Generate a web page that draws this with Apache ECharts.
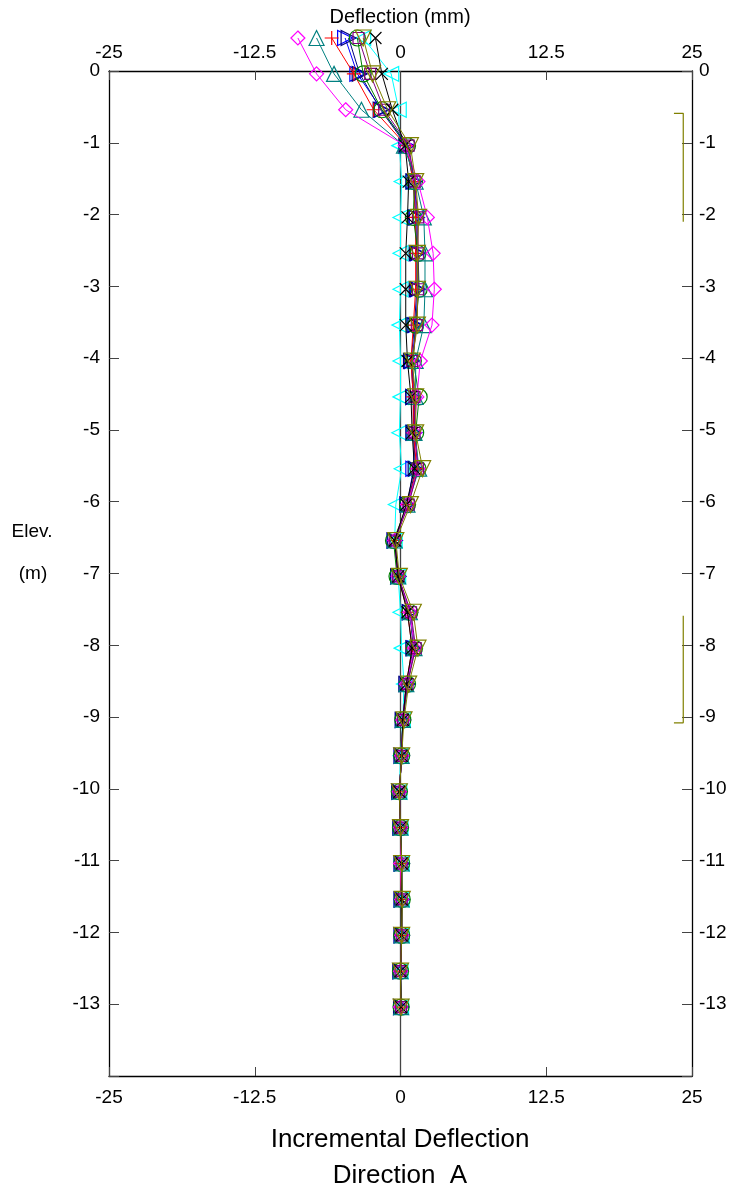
<!DOCTYPE html>
<html><head><meta charset="utf-8">
<script src="https://cdn.jsdelivr.net/npm/echarts@6/dist/echarts.min.js"></script>
<style>html,body{margin:0;padding:0;background:#fff}#c{width:736px;height:1196px}</style>
</head><body><div id="c"></div>
<script>
// Elevations of the readings (m)
const elevations = [0.46,-0.04,-0.54,-1.04,-1.54,-2.04,-2.54,-3.04,-3.54,-4.04,-4.54,-5.04,-5.54,-6.04,-6.54,-7.04,-7.54,-8.04,-8.54,-9.04,-9.54,-10.04,-10.54,-11.04,-11.54,-12.04,-12.54,-13.04];
const xTickValues = [-25,-12.5,0,12.5,25];
const yTickValues = [0,-1,-2,-3,-4,-5,-6,-7,-8,-9,-10,-11,-12,-13];

// Incremental deflection per reading set (mm)
const cyanSet    = [-3.2,-0.8,-0.15,-0.1,0.1,0.0,0.0,0.0,-0.1,0.0,0.0,-0.1,0.1,-0.4,-0.5,-0.2,0.0,0.1,0.3,0.2,0.0,-0.1,0.0,0.1,0.1,0.1,0.0,0.05];
const blueSet    = [-4.75,-3.7,-1.6,0.6,1.2,1.4,1.5,1.5,1.3,1.0,1.1,1.2,1.1,0.6,-0.5,-0.2,0.8,1.2,0.6,0.2,0.1,-0.1,0.0,0.1,0.1,0.1,0.0,0.05];
const navySet    = [-4.45,-3.5,-1.7,0.5,1.1,1.3,1.4,1.4,1.2,0.9,1.1,1.1,1.3,0.6,-0.5,-0.2,0.8,1.1,0.5,0.2,0.1,-0.1,0.0,0.1,0.1,0.1,0.0,0.05];
const redSet     = [-5.9,-4.0,-2.3,0.5,1.1,1.3,1.3,1.3,1.1,0.9,1.1,1.1,1.4,0.6,-0.5,-0.2,0.6,1.0,0.5,0.2,0.1,-0.1,0.0,0.0,0.1,0.1,0.0,0.05];
const greenSet   = [-3.7,-3.2,-1.6,0.6,1.2,1.1,1.5,1.6,1.3,1.1,1.6,1.3,1.5,0.6,-0.6,-0.3,0.8,1.2,0.6,0.2,0.1,-0.1,0.0,0.1,0.15,0.1,0.0,0.05];
const tealSet    = [-7.2,-5.7,-3.35,0.3,1.3,2.0,2.1,2.1,2.0,1.3,1.3,1.2,1.6,0.6,-0.5,-0.2,0.8,1.2,0.5,0.2,0.1,-0.1,0.0,0.1,0.1,0.1,0.0,0.05];
const magentaSet = [-8.8,-7.2,-4.7,0.4,1.5,2.3,2.8,2.9,2.7,1.7,1.4,1.2,1.5,0.6,-0.5,-0.2,0.8,1.2,0.5,0.2,0.1,-0.1,0.0,0.0,0.1,0.1,0.0,0.0];
const purpleSet  = [-3.6,-2.6,-1.4,0.7,1.2,1.5,1.5,1.5,1.4,1.0,1.2,1.2,1.5,0.7,-0.5,-0.2,0.9,1.3,0.6,0.2,0.1,-0.1,0.0,0.1,0.1,0.1,0.0,0.05];
const blackSet   = [-2.15,-1.6,-0.7,0.4,0.7,0.6,0.45,0.45,0.45,0.6,0.9,1.0,1.2,0.5,-0.5,-0.2,0.6,1.0,0.5,0.2,0.1,-0.1,0.0,0.1,0.1,0.1,0.0,0.05];
const oliveSet   = [-3.2,-2.4,-1.1,0.85,1.3,1.55,1.45,1.45,1.45,1.0,1.3,1.3,1.9,0.85,-0.4,-0.1,1.1,1.5,0.7,0.3,0.1,-0.1,0.0,0.1,0.15,0.1,0.0,0.05];

// Zone brackets on the right (x in mm, elevation in m)
const bracketUpper = [[23.45,-0.59],[24.25,-0.59],[24.25,-2.1]];
const bracketLower = [[24.25,-7.59],[24.25,-9.08],[23.45,-9.08]];
const zeroLine = [[0,0],[0,-14]];

const PLUS = 'path://M5,0L5,10M0,5L10,5';
const CROSS = 'path://M0,0L10,10M10,0L0,10';

const sets = [
  {name:'cyan', color:'#00FFFF', values:cyanSet, symbol:'triangle', rot:90, size:15},
  {name:'blue', color:'#0000FF', values:blueSet, symbol:'triangle', rot:-90, size:15},
  {name:'navy', color:'#000080', values:navySet, symbol:'triangle', rot:-90, size:15},
  {name:'red', color:'#FF0000', values:redSet, symbol:PLUS, rot:0, size:14},
  {name:'green', color:'#008000', values:greenSet, symbol:'circle', rot:0, size:16},
  {name:'teal', color:'#008080', values:tealSet, symbol:'triangle', rot:0, size:15},
  {name:'magenta', color:'#FF00FF', values:magentaSet, symbol:'diamond', rot:0, size:14},
  {name:'purple', color:'#800080', values:purpleSet, symbol:'rect', rot:0, size:11},
  {name:'black', color:'#000000', values:blackSet, symbol:CROSS, rot:0, size:12},
  {name:'olive', color:'#808000', values:oliveSet, symbol:'triangle', rot:180, size:16}
];

const FONT = 'Liberation Sans, Arial, Helvetica, sans-serif';
const chart = echarts.init(document.getElementById('c'), null, {renderer:'canvas'});

const series = [{
  type:'line', data:zeroLine, xAxisIndex:0, yAxisIndex:0, symbol:'none', silent:true,
  lineStyle:{color:'#444', width:1.3}, z:1
}];
sets.forEach((s, k) => {
  series.push({
    type:'line', name:s.name, xAxisIndex:0, yAxisIndex:0,
    data: elevations.map((e, i) => [s.values[i], e]),
    symbol:s.symbol, symbolSize:s.size, symbolRotate:s.rot, symbolKeepAspect:true,
    showAllSymbol:true, clip:false, animation:false,
    lineStyle:{color:s.color, width:1},
    itemStyle:{color:'rgba(0,0,0,0)', borderColor:s.color, borderWidth:1.2},
    emphasis:{disabled:true}, z:2+k
  });
});
[bracketUpper, bracketLower].forEach(b => series.push({
  type:'line', data:b, symbol:'none', silent:true, clip:false,
  lineStyle:{color:'#808000', width:1.2}, z:20
}));

const xAxisBase = {
  type:'value', min:-25, max:25, interval:12.5,
  axisLine:{show:true, onZero:false, lineStyle:{color:'#000', width:1.3}},
  axisTick:{show:true, inside:true, length:9, lineStyle:{color:'#444'}},
  splitLine:{show:false},
  axisLabel:{color:'#000', fontFamily:FONT, fontSize:19}
};
const yAxisBase = {
  type:'value', min:-14, max:0, interval:1,
  axisLine:{show:true, onZero:false, lineStyle:{color:'#000', width:1.3}},
  axisTick:{show:true, inside:true, length:10, lineStyle:{color:'#444'}},
  splitLine:{show:false},
  axisLabel:{color:'#000', fontFamily:FONT, fontSize:19,
    formatter: v => (yTickValues.indexOf(v) >= 0 ? String(v) : '')}
};

chart.setOption({
  backgroundColor:'#fff',
  animation:false,
  grid:{left:109, right:44, top:71, bottom:120, containLabel:false},
  xAxis:[
    Object.assign({}, xAxisBase, {position:'bottom', axisLabel:Object.assign({}, xAxisBase.axisLabel, {margin:12})}),
    Object.assign({}, xAxisBase, {position:'top', axisLabel:Object.assign({}, xAxisBase.axisLabel, {margin:9})})
  ],
  yAxis:[
    Object.assign({}, yAxisBase, {position:'left', axisLabel:Object.assign({}, yAxisBase.axisLabel, {margin:9})}),
    Object.assign({}, yAxisBase, {position:'right', axisLabel:Object.assign({}, yAxisBase.axisLabel, {margin:7})})
  ],
  graphic:[
    {type:'text', x:400, y:17, style:{text:'Deflection (mm)', font:'20px '+FONT, fill:'#000', align:'center', verticalAlign:'middle'}},
    {type:'text', x:32, y:532, style:{text:'Elev.', font:'19px '+FONT, fill:'#000', align:'center', verticalAlign:'middle'}},
    {type:'text', x:33, y:574, style:{text:'(m)', font:'19px '+FONT, fill:'#000', align:'center', verticalAlign:'middle'}},
    {type:'text', x:400, y:1140, style:{text:'Incremental Deflection', font:'26px '+FONT, fill:'#000', align:'center', verticalAlign:'middle'}},
    {type:'text', x:400, y:1176, style:{text:'Direction  A', font:'26px '+FONT, fill:'#000', align:'center', verticalAlign:'middle'}}
  ],
  series: series
});
</script>
</body></html>
